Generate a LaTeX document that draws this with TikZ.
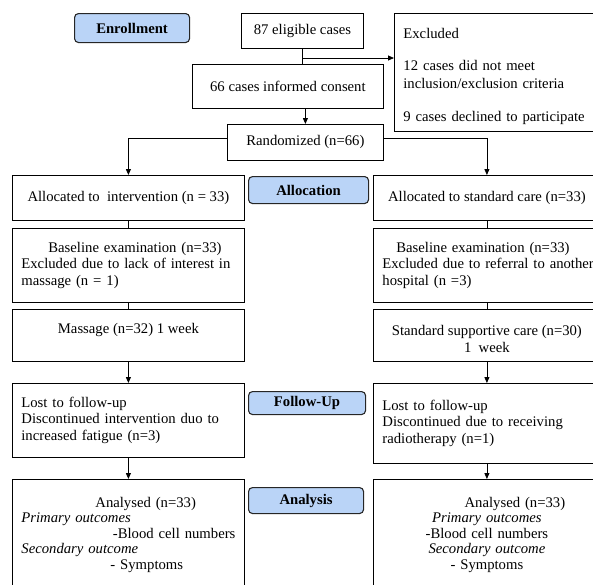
\documentclass[tikz,border=0pt]{standalone}
\usepackage{fontspec}
\setmainfont{Liberation Serif}
\usetikzlibrary{arrows.meta}
\definecolor{lblue}{RGB}{186,212,247}
\hyphenpenalty=10000
\exhyphenpenalty=10000
\begin{document}
\begin{tikzpicture}[x=1pt,y=-1pt, font=\fontsize{14.7}{16.5}\selectfont,
 box/.style={draw, line width=0.8pt, rectangle, inner sep=0pt, inner xsep=8pt, anchor=north west},
 lbl/.style={draw=black!85, line width=1.1pt, rounded corners=4pt, fill=lblue, anchor=north west, font=\fontsize{14.7}{16.5}\selectfont\bfseries, inner sep=0pt},
 arr/.style={line width=0.8pt, -{Triangle[length=6pt,width=5pt]}},
 link/.style={line width=0.8pt}]
\useasboundingbox (0,0) rectangle (593,584);
\clip (0,0) rectangle (593,584);
\node[lbl, minimum width=115pt, minimum height=29pt] (enroll) at (74,13) {Enrollment};
\node[box, minimum width=122pt, minimum height=35pt] (elig) at (241,13) {87 eligible cases};
\node[box, minimum width=211pt, minimum height=118pt, text width=195pt, inner xsep=9pt, align=left, font=\fontsize{14.7}{18}\selectfont, text height=18pt] (excl) at (394,13) {Excluded\\[14pt] 12 cases did not meet\\ inclusion/exclusion criteria\\[15pt] 9 cases declined to participate};
\node[box, minimum width=191pt, minimum height=44pt] (consent) at (192,64) {66 cases informed consent};
\node[box, minimum width=156pt, minimum height=36pt] (rand) at (227,124) {Randomized (n=66)};
\node[box, minimum width=232pt, minimum height=45pt] (allocI) at (12,175) {Allocated to\ \ intervention (n = 33)};
\node[lbl, minimum width=120pt, minimum height=27pt] (allocL) at (248,176) {Allocation};
\node[box, minimum width=227pt, minimum height=45pt] (allocS) at (373,175) {Allocated to standard care (n=33)};
\node[box, minimum width=232pt, minimum height=74pt, text width=214pt, inner xsep=9pt, align=left] (baseI) at (12,228) {\hspace*{27pt}Baseline examination (n=33)\\ Excluded due to lack of interest in\\ massage (n = 1)};
\node[box, minimum width=227pt, minimum height=74pt, text width=209pt, inner xsep=9pt, align=left] (baseS) at (373,228) {\hspace*{14pt}Baseline examination (n=33)\\ \mbox{Excluded due to referral to another}\\ hospital (n =3)};
\node[box, minimum width=232pt, minimum height=52pt, text depth=14pt] (massI) at (12,309) {Massage (n=32) 1 week};
\node[box, minimum width=227pt, minimum height=52pt, align=center, text height=34pt] (massS) at (373,309) {Standard supportive care (n=30)\\ 1\ \ week};
\node[box, minimum width=232pt, minimum height=74pt, text width=214pt, inner xsep=9pt, align=left] (lostI) at (12,383) {Lost to follow-up\\ Discontinued intervention duo to\\ increased fatigue (n=3)};
\node[lbl, minimum width=117pt, minimum height=23pt] (follow) at (248,391) {Follow-Up};
\node[box, minimum width=227pt, minimum height=80pt, text width=209pt, inner xsep=9pt, align=left] (lostS) at (373,383) {Lost to follow-up\\ Discontinued due to receiving\\ radiotherapy (n=1)};
\node[box, minimum width=232pt, minimum height=111pt, text width=214pt, inner xsep=9pt, align=left, font=\fontsize{14.7}{15.5}\selectfont] (anaI) at (12,479) {\hspace*{74pt}Analysed (n=33)\\ \textit{Primary outcomes}\\ \hfill -Blood cell numbers\hspace*{5pt}\\ \textit{Secondary outcome}\\ \hspace*{89pt}- Symptoms};
\node[lbl, minimum width=115pt, minimum height=26pt] (anaL) at (248,487) {Analysis};
\node[box, minimum width=227pt, minimum height=111pt, text width=209pt, inner xsep=9pt, align=center, font=\fontsize{14.7}{15.5}\selectfont] (anaS) at (373,479) {\hspace*{56pt}Analysed (n=33)\\ \textit{Primary outcomes}\\ -Blood cell numbers\\ \textit{Secondary outcome}\\ - Symptoms\hspace*{22pt}};
\coordinate (j1) at (302,58);
\draw[link] (elig.south) -- (elig.south |- consent.north);
\draw[arr] (j1) -- (j1 -| excl.west);
\draw[arr] (rand.north |- consent.south) -- (rand.north);
\draw[arr] ([yshift=4pt]rand.west) -| (allocI.north);
\draw[arr] ([yshift=4pt]rand.east) -| (allocS.north);
\draw[link] (allocI) -- (baseI);
\draw[link] (baseI) -- (massI);
\draw[arr] (massI) -- (lostI);
\draw[arr] (lostI) -- (anaI);
\draw[link] (allocS) -- (baseS);
\draw[link] (baseS) -- (massS);
\draw[arr] (massS) -- (lostS);
\draw[arr] (lostS) -- (anaS);
\end{tikzpicture}
\end{document}
